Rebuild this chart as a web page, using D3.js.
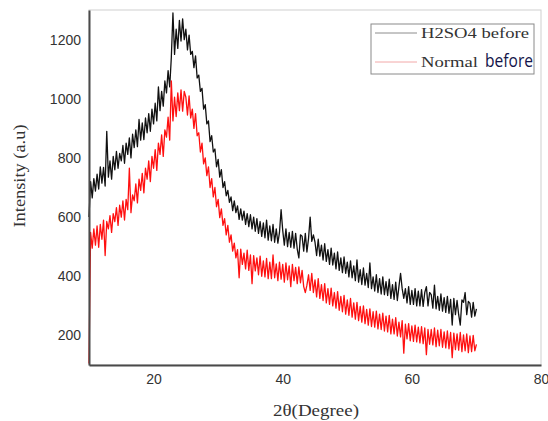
<!DOCTYPE html>
<html>
<head>
<meta charset="utf-8">
<script src="https://cdn.jsdelivr.net/npm/d3@7"></script>
<style>
  body { margin: 0; background: #fff; }
  svg { display: block; }
</style>
</head>
<body>
<div class="container"></div>
<script>
// 2-theta sampling grid (degrees), one reading every 0.25 deg from 10 to 70
const thetaStart = 10;
const thetaStep = 0.25;

// H2SO4 before (black), 4 readings per degree
const h2so4Before = [
  600, 720, 665, 730,
  688, 745, 695, 770,
  715, 768, 705, 890,
  735, 790, 728, 805,
  760, 822, 765, 815,
  790, 842, 782, 850,
  812, 868, 800, 880,
  835, 895, 838, 930,
  860, 918, 862, 935,
  885, 950, 890, 965,
  915, 985, 925, 1040,
  960, 1025, 975, 1060,
  1020, 1095, 1040, 1140,
  1290, 1150, 1235, 1170,
  1265, 1195, 1270, 1200,
  1235, 1165, 1215, 1150,
  1160, 1105, 1145, 1070,
  1080, 1025, 1035, 965,
  980, 915, 925, 855,
  875, 820, 830, 770,
  795, 735, 760, 700,
  720, 672, 690, 650,
  668, 622, 655, 615,
  638, 592, 628, 590,
  620, 575, 612, 568,
  608, 560, 600, 552,
  595, 545, 585, 535,
  580, 530, 590, 522,
  570, 520, 575, 515,
  560, 512, 548, 625,
  555, 505, 560, 500,
  548, 498, 552, 495,
  545, 492, 462, 540,
  535, 485, 545, 482,
  528, 600, 518, 540,
  515, 470, 525, 468,
  505, 455, 510, 450,
  490, 440, 495, 438,
  478, 425, 482, 420,
  462, 412, 465, 410,
  448, 398, 452, 395,
  435, 385, 455, 380,
  422, 372, 428, 370,
  410, 362, 445, 358,
  398, 350, 405, 345,
  392, 340, 398, 338,
  382, 335, 390, 325,
  372, 322, 380, 318,
  365, 410, 358, 325,
  358, 310, 365, 305,
  352, 305, 358, 300,
  350, 300, 355, 298,
  345, 365, 300, 345,
  338, 292, 370, 290,
  332, 285, 340, 282,
  328, 278, 332, 275,
  322, 235, 325, 270,
  318, 270, 235, 320,
  312, 345, 270, 315,
  308, 262, 312, 265,
  290
];

// Normal before (red)
const normalBefore = [
  105, 548, 495, 560,
  505, 570, 498, 575,
  525, 590, 470, 585,
  560, 605, 548, 612,
  585, 632, 572, 640,
  600, 655, 590, 660,
  625, 765, 615, 675,
  655, 712, 648, 728,
  690, 748, 682, 765,
  728, 790, 720, 805,
  765, 828, 758, 850,
  812, 878, 805, 895,
  870, 938, 860, 1060,
  925, 1005, 940, 1020,
  960, 1030, 958, 1025,
  1005, 945, 1010, 935,
  965, 900, 950, 875,
  885, 820, 850, 780,
  800, 740, 770, 700,
  730, 668, 700, 635,
  660, 598, 628, 572,
  595, 540, 572, 515,
  540, 485, 512, 462,
  490, 395, 492, 440,
  478, 425, 488, 420,
  472, 375, 470, 418,
  462, 405, 468, 400,
  452, 398, 460, 392,
  448, 392, 472, 395,
  442, 385, 448, 390,
  440, 380, 445, 388,
  435, 365, 440, 385,
  430, 375, 432, 378,
  420, 365, 345, 370,
  405, 352, 410, 345,
  388, 330, 392, 325,
  372, 318, 375, 310,
  358, 305, 360, 300,
  345, 292, 348, 285,
  332, 280, 335, 272,
  320, 268, 325, 262,
  310, 255, 312, 250,
  298, 245, 300, 240,
  288, 235, 290, 230,
  280, 228, 282, 222,
  272, 220, 275, 215,
  265, 212, 268, 205,
  255, 205, 260, 198,
  245, 195, 250, 140,
  238, 188, 240, 182,
  232, 180, 235, 178,
  228, 175, 230, 172,
  225, 135, 220, 170,
  220, 168, 225, 162,
  218, 165, 220, 160,
  212, 158, 215, 155,
  210, 125, 208, 152,
  205, 150, 210, 145,
  202, 148, 205, 142,
  198, 145, 200, 148,
  170
];

const xTicks = [20, 40, 60, 80];
const yTicks = [200, 400, 600, 800, 1000, 1200];
const seriesNames = ['H2SO4 before', 'Normal before'];
const seriesColors = ['#111', '#ff1010'];

const width = 548;
const height = 421;
const margin = { top: 10, right: 7, bottom: 56, left: 89 };

const svg = d3
  .select('.container')
  .append('svg')
  .attr('width', width)
  .attr('height', height);

const x = d3.scaleLinear().domain([10, 80]).range([margin.left, width - margin.right]);
const y = d3.scaleLinear().domain([100, 1300]).range([height - margin.bottom, margin.top]);

// light frame on top / right
svg
  .append('rect')
  .attr('x', x(10))
  .attr('y', y(1300))
  .attr('width', x(80) - x(10))
  .attr('height', y(100) - y(1300))
  .attr('fill', 'none')
  .attr('stroke', '#cfcfcf')
  .attr('stroke-width', 1);

const line = d3
  .line()
  .x((d, i) => x(thetaStart + i * thetaStep))
  .y((d) => y(d));

[h2so4Before, normalBefore].forEach((vals, k) => {
  svg
    .append('path')
    .datum(vals)
    .attr('fill', 'none')
    .attr('stroke', seriesColors[k])
    .attr('stroke-width', 1.3)
    .attr('stroke-linejoin', 'round')
    .attr('d', line);
});

// axes: no tick marks, just labels and the dark axis lines
const xAxis = svg
  .append('g')
  .attr('transform', `translate(0,${y(100)})`)
  .call(d3.axisBottom(x).tickValues(xTicks).tickSize(0).tickPadding(9).tickFormat(d3.format('d')));
xAxis.select('.domain').attr('stroke', '#4a4a4a').attr('stroke-width', 2);

const yAxis = svg
  .append('g')
  .attr('transform', `translate(${x(10)},0)`)
  .call(d3.axisLeft(y).tickValues(yTicks).tickSize(0).tickPadding(8).tickFormat(d3.format('d')));
yAxis.select('.domain').attr('stroke', '#4a4a4a').attr('stroke-width', 2);

svg
  .selectAll('.tick text')
  .attr('font-family', 'Liberation Sans, Arial, sans-serif')
  .attr('font-size', 14)
  .attr('fill', '#333');

// axis titles
svg
  .append('text')
  .attr('transform', `translate(25,176) rotate(-90)`)
  .attr('text-anchor', 'middle')
  .attr('font-family', 'Liberation Serif, Times New Roman, serif')
  .attr('font-size', 16)
  .attr('fill', '#333')
  .attr('textLength', 103)
  .attr('lengthAdjust', 'spacingAndGlyphs')
  .text('Intensity (a.u)');

svg
  .append('text')
  .attr('x', 316)
  .attr('y', 416)
  .attr('text-anchor', 'middle')
  .attr('font-family', 'Liberation Serif, Times New Roman, serif')
  .attr('font-size', 17)
  .attr('fill', '#333')
  .attr('textLength', 86)
  .attr('lengthAdjust', 'spacingAndGlyphs')
  .text('2θ(Degree)');

// legend
const legend = svg.append('g').attr('class', 'legend');
legend
  .append('rect')
  .attr('x', 371)
  .attr('y', 24)
  .attr('width', 163)
  .attr('height', 50)
  .attr('fill', '#fff')
  .attr('stroke', '#8a8a8a')
  .attr('stroke-width', 1);

const legendLineColors = ['#8c8c8c', '#f2a8a8'];
seriesNames.forEach((name, i) => {
  const ly = 33 + i * 29;
  legend
    .append('line')
    .attr('x1', 375)
    .attr('x2', 417)
    .attr('y1', ly)
    .attr('y2', ly)
    .attr('stroke', legendLineColors[i])
    .attr('stroke-width', 1);
});

legend
  .append('text')
  .attr('x', 421)
  .attr('y', 38)
  .attr('font-family', 'Liberation Serif, Times New Roman, serif')
  .attr('font-size', 15)
  .attr('fill', '#333')
  .attr('textLength', 108)
  .attr('lengthAdjust', 'spacingAndGlyphs')
  .text(seriesNames[0]);

legend
  .append('text')
  .attr('x', 421)
  .attr('y', 67)
  .attr('font-family', 'Liberation Serif, Times New Roman, serif')
  .attr('font-size', 15)
  .attr('fill', '#333')
  .attr('textLength', 57)
  .attr('lengthAdjust', 'spacingAndGlyphs')
  .text('Normal');

legend
  .append('text')
  .attr('x', 485)
  .attr('y', 67)
  .attr('font-family', 'Open Sans, Noto Sans, sans-serif')
  .attr('font-size', 18)
  .attr('fill', '#14144a')
  .attr('textLength', 48)
  .attr('lengthAdjust', 'spacingAndGlyphs')
  .text('before');
</script>
</body>
</html>
